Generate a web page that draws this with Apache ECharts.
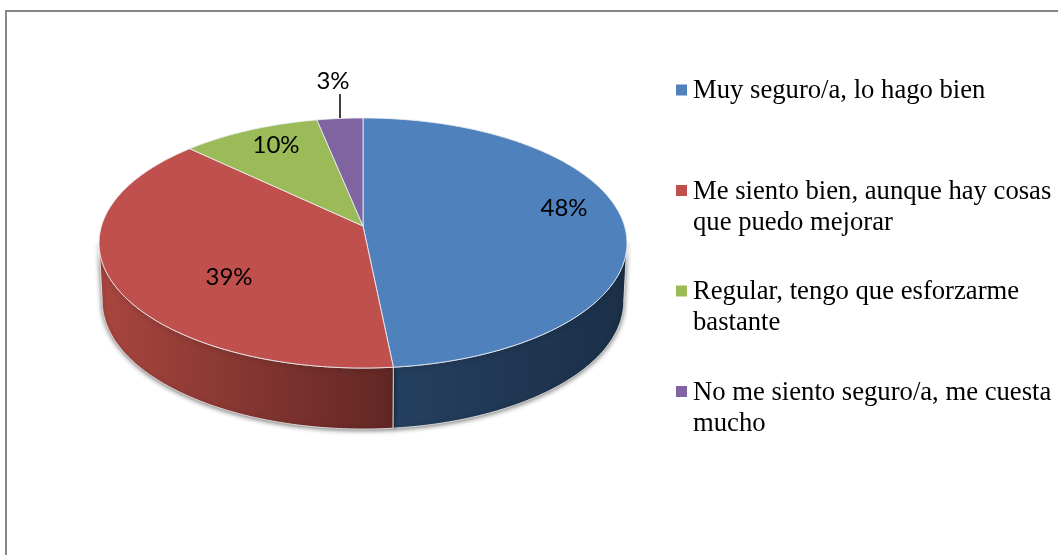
<!DOCTYPE html>
<html>
<head>
<meta charset="utf-8">
<style>
  html, body { margin: 0; padding: 0; background: #fff; }
  #chart { width: 1058px; height: 555px; }
</style>
<script src="https://cdn.jsdelivr.net/npm/echarts@6/dist/echarts.min.js"></script>
</head>
<body>
<div id="chart"></div>
<script>
const categories = [
  "Muy seguro/a, lo hago bien",
  "Me siento bien, aunque hay cosas\nque puedo mejorar",
  "Regular, tengo que esforzarme\nbastante",
  "No me siento seguro/a, me cuesta\nmucho"
];
const shares = [48.4, 38.7, 9.7, 3.2];
const colors = ["#4f81bd", "#c0504d", "#9bbb59", "#8064a2"];

// wall shading per slice, the two back slices have no visible wall
const wallShades = [
  { from: "#25405f", to: "#1b2f48", x0: 393, x1: 627 },
  { from: "#a9453f", to: "#612724", x0: 100, x1: 393 },
  null,
  null
];
// label centres, Excel puts these by hand so they do not follow the slice maths
const labelCentres = [[564, 208], [229, 277], [276, 145], [333, 81]];
const leaderLine = { index: 3, x: 340, y1: 94, y2: 118 };

// perspective disc: apex sits above the middle of the ellipse
const disc = { cx: 363, cy: 226, a: 261.5, b: 122.7, p: 0.136 };
const wall = { scaleX: 0.988, scaleY: 1.024, midY: 243, dropY: 58 };
const total = shares.reduce((sum, v) => sum + v, 0);

// angles where the disc outline is widest, the wall only shows between them
const wallFrom = Math.acos(-disc.p) * 180 / Math.PI;
const wallTo = 360 - wallFrom;

function projectTop(deg) {
  const t = deg * Math.PI / 180;
  const u = Math.sin(t);
  const v = -Math.cos(t);
  const w = 1 - disc.p * v;
  return [disc.cx + disc.a * u / w, disc.cy + disc.b * v / w];
}

function projectBottom(deg) {
  const [x, y] = projectTop(deg);
  return [
    disc.cx + (x - disc.cx) * wall.scaleX,
    wall.midY + wall.dropY + (y - wall.midY) * wall.scaleY
  ];
}

function arc(project, start, end) {
  const points = [];
  const steps = Math.max(2, Math.ceil((end - start) * 2));
  for (let i = 0; i <= steps; i++) {
    points.push(project(start + (end - start) * i / steps));
  }
  return points;
}

function renderSlice(params, api) {
  const i = params.seriesIndex;
  const value = api.value(0);
  const before = shares.slice(0, i).reduce((sum, v) => sum + v, 0);
  const start = before / total * 360;
  const end = start + value / total * 360;
  const children = [];

  const shade = wallShades[i];
  if (shade) {
    const from = Math.max(start, wallFrom);
    const to = Math.min(end, wallTo);
    children.push({
      type: "polygon",
      z2: 1,
      shape: { points: arc(projectTop, from, to).concat(arc(projectBottom, from, to).reverse()) },
      style: {
        fill: new echarts.graphic.LinearGradient(shade.x0, 0, shade.x1, 0, [
          { offset: 0, color: shade.from },
          { offset: 1, color: shade.to }
        ], true),
        stroke: "rgba(235,235,235,0.85)",
        lineWidth: 1,
        shadowBlur: 5,
        shadowOffsetX: 0,
        shadowOffsetY: 1,
        shadowColor: "rgba(0,0,0,0.55)"
      }
    });
  }

  children.push({
    type: "polygon",
    z2: 2,
    shape: { points: [[disc.cx, disc.cy]].concat(arc(projectTop, start, end)) },
    style: { fill: colors[i], stroke: "rgba(235,238,242,0.85)", lineWidth: 1 }
  });

  if (leaderLine.index === i) {
    children.push({
      type: "line",
      z2: 3,
      shape: { x1: leaderLine.x, y1: leaderLine.y1, x2: leaderLine.x, y2: leaderLine.y2 },
      style: { stroke: "#000", lineWidth: 1.5 }
    });
  }

  children.push({
    type: "text",
    z2: 4,
    style: {
      text: Math.round(value / total * 100) + "%",
      x: labelCentres[i][0],
      y: labelCentres[i][1],
      align: "center",
      verticalAlign: "middle",
      fontFamily: "Lato",
      fontSize: 24,
      fill: "#000"
    }
  });

  return { type: "group", children };
}

const chart = echarts.init(document.getElementById("chart"));
chart.setOption({
  animation: false,
  backgroundColor: "#fff",
  legend: {
    orient: "vertical",
    left: 676,
    top: 75.5,
    // tall icon box with the square in its upper part, so the marker sits on the first text line
    icon: "path://M0 9H11V20H0Z M0 0H0 M12 62H12",
    itemWidth: 12,
    itemHeight: 62,
    itemGap: 38.5,
    padding: 0,
    selectedMode: false,
    data: categories,
    formatter: (name) => (name.includes("\n") ? name : name + "\n "),
    textStyle: {
      fontFamily: "Liberation Serif",
      fontSize: 26.67,
      lineHeight: 31,
      color: "#000"
    }
  },
  graphic: [
    {
      type: "polyline",
      silent: true,
      shape: { points: [[6, 556], [6, 11], [1059, 11]] },
      style: { fill: null, stroke: "#868686", lineWidth: 2 }
    }
  ],
  series: categories.map((name, i) => ({
    type: "custom",
    name,
    coordinateSystem: "none",
    silent: true,
    itemStyle: { color: colors[i] },
    renderItem: renderSlice,
    data: [[shares[i]]]
  }))
});
</script>
</body>
</html>
